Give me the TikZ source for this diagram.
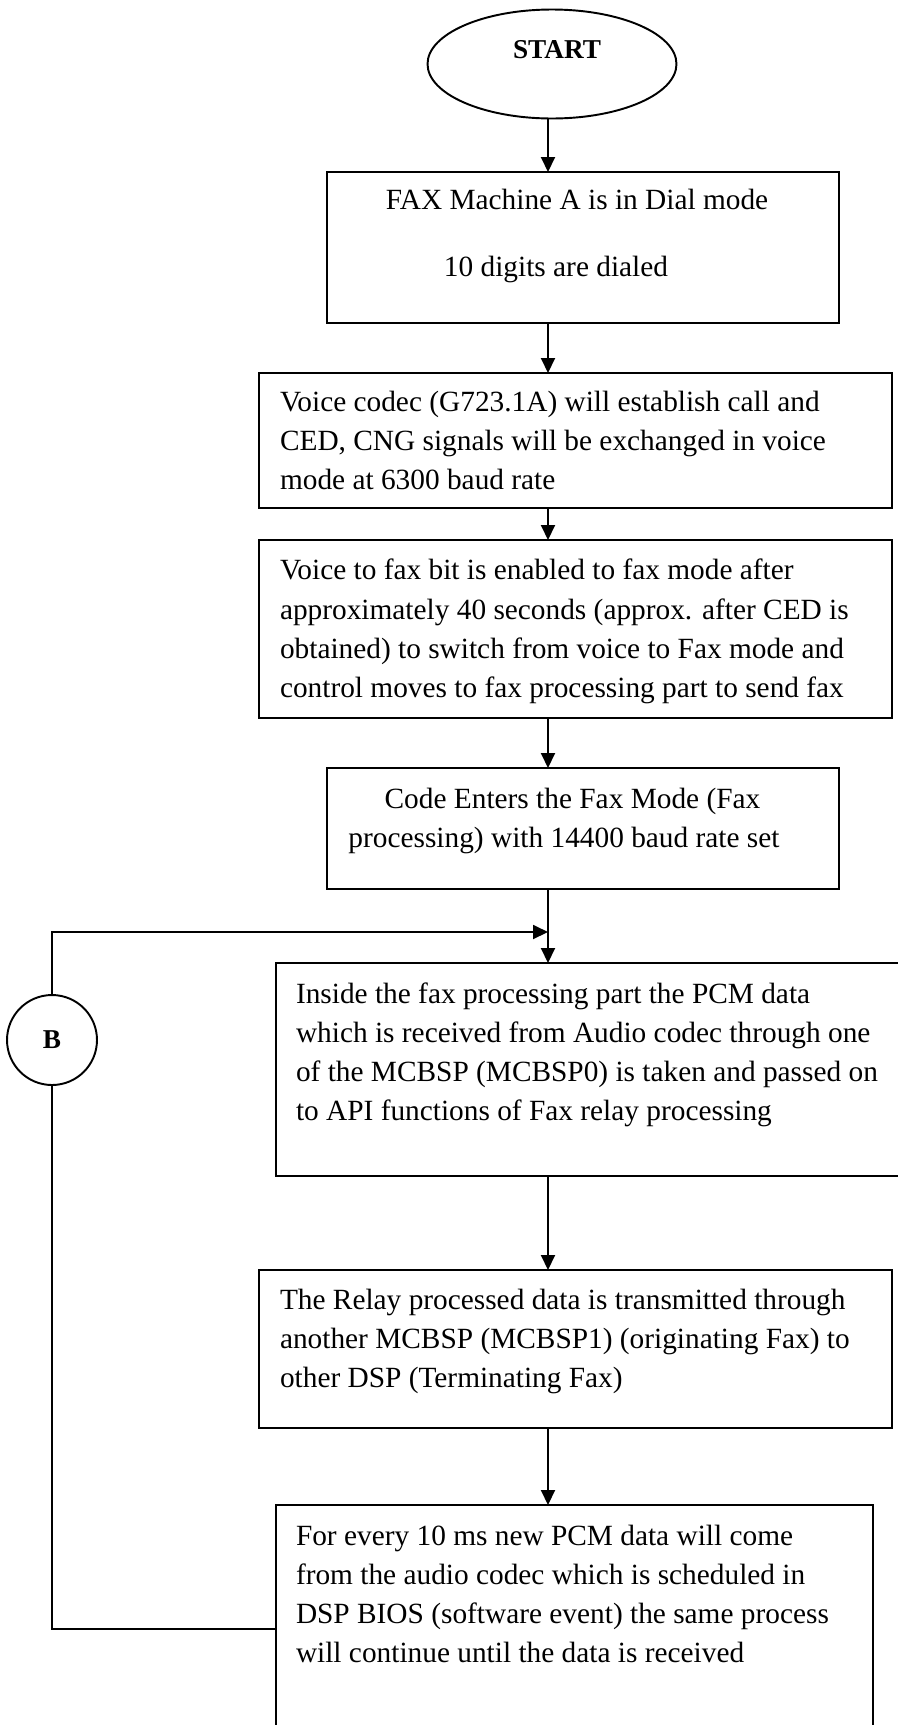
\documentclass[tikz,border=0pt]{standalone}
\usepackage{fontspec}
\setmainfont{Liberation Serif}
\usetikzlibrary{arrows.meta,shapes.geometric}
\begin{document}
\begin{tikzpicture}[x=0.02cm, y=-0.02cm, font=\fontsize{16.7pt}{22.2pt}\selectfont, line width=1.1pt,
	every node/.style={outer sep=0pt},
	box/.style={draw, rectangle, anchor=north west, inner sep=0pt},
	txt/.style={anchor=base west, align=left, inner sep=0pt},
	ctxt/.style={anchor=base, align=center, inner sep=0pt},
	arr/.style={-{Triangle[length=0.3cm, width=0.28cm]}}]
	\useasboundingbox (0,0) rectangle (897,1725);
	\coordinate (col) at (548,0);
	
	% Start
	\node[draw, ellipse, minimum width=4.98cm, minimum height=2.18cm] (start) at (552,64) {};
	\node[font=\fontsize{15.5pt}{18pt}\selectfont\bfseries] (startlbl) at (557,50) {START};
	
	% Voice mode (text placed at baseline of last line)
	\node[box, minimum width=10.24cm, minimum height=3.02cm] (dial) at (327,172) {};
	\node[ctxt] (dialtxt) at (577,276) {FAX Machine A is in Dial mode\\[15.4pt]10 digits are dialed\hspace{0.84cm}\mbox{}};
	\node[box, minimum width=12.66cm, minimum height=2.70cm] (voice) at (259,373) {};
	\node[txt] (voicetxt) at (280,489) {Voice codec (G723.1A) will establish call and\\CED, CNG signals will be exchanged in voice\\mode at 6300 baud rate};
	\node[box, minimum width=12.66cm, minimum height=3.56cm] (switch) at (259,540) {};
	\node[txt] (switchtxt) at (280,697) {Voice to fax bit is enabled to fax mode after\\approximately 40 seconds (approx. after CED is\\obtained) to switch from voice to Fax mode and\\control moves to fax processing part to send fax};
	
	% Fax mode
	\node[box, minimum width=10.24cm, minimum height=2.42cm] (faxmode) at (327,768) {};
	\node[ctxt] (faxmodetxt) at (564,847) {\hspace{0.34cm}Code Enters the Fax Mode (Fax\\processing) with 14400 baud rate set};
	\node[box, minimum width=12.7cm, minimum height=4.26cm] (pcm) at (276,963) {};
	\node[txt] (pcmtxt) at (296,1120) {Inside the fax processing part the PCM data\\which is received from Audio codec through one\\of the MCBSP (MCBSP0) is taken and passed on\\to API functions of Fax relay processing};
	\node[box, minimum width=12.66cm, minimum height=3.16cm] (relay) at (259,1270) {};
	\node[txt] (relaytxt) at (280,1387) {The Relay processed data is transmitted through\\another MCBSP (MCBSP1) (originating Fax) to\\other DSP (Terminating Fax)};
	\node[box, minimum width=11.94cm, minimum height=4.8cm] (tenms) at (276,1505) {};
	\node[txt] (tenmstxt) at (296,1662) {For every 10 ms new PCM data will come\\from the audio codec which is scheduled in\\DSP BIOS (software event) the same process\\will continue until the data is received};
	
	\draw[arr] (start.south -| col) -- (dial.north -| col);
	\draw[arr] (dial.south -| col) -- (voice.north -| col);
	\draw[arr] (voice.south -| col) -- (switch.north -| col);
	\draw[arr] (switch.south -| col) -- (faxmode.north -| col);
	\draw[arr] (faxmode.south -| col) -- (pcm.north -| col);
	\draw[arr] (pcm.south -| col) -- (relay.north -| col);
	\draw[arr] (relay.south -| col) -- (tenms.north -| col);
	
	% Loop back via B
	\node[draw, circle, minimum size=1.8cm, inner sep=0pt, font=\fontsize{15.5pt}{18pt}\selectfont\bfseries] (bnode) at (52,1040) {B};
	\coordinate (loopout) at (276,1629);
	\coordinate (loopin) at (548,932);
	\draw (loopout) -| (bnode.south);
	\draw[arr] (bnode.north) |- (loopin);
\end{tikzpicture}
\end{document}
